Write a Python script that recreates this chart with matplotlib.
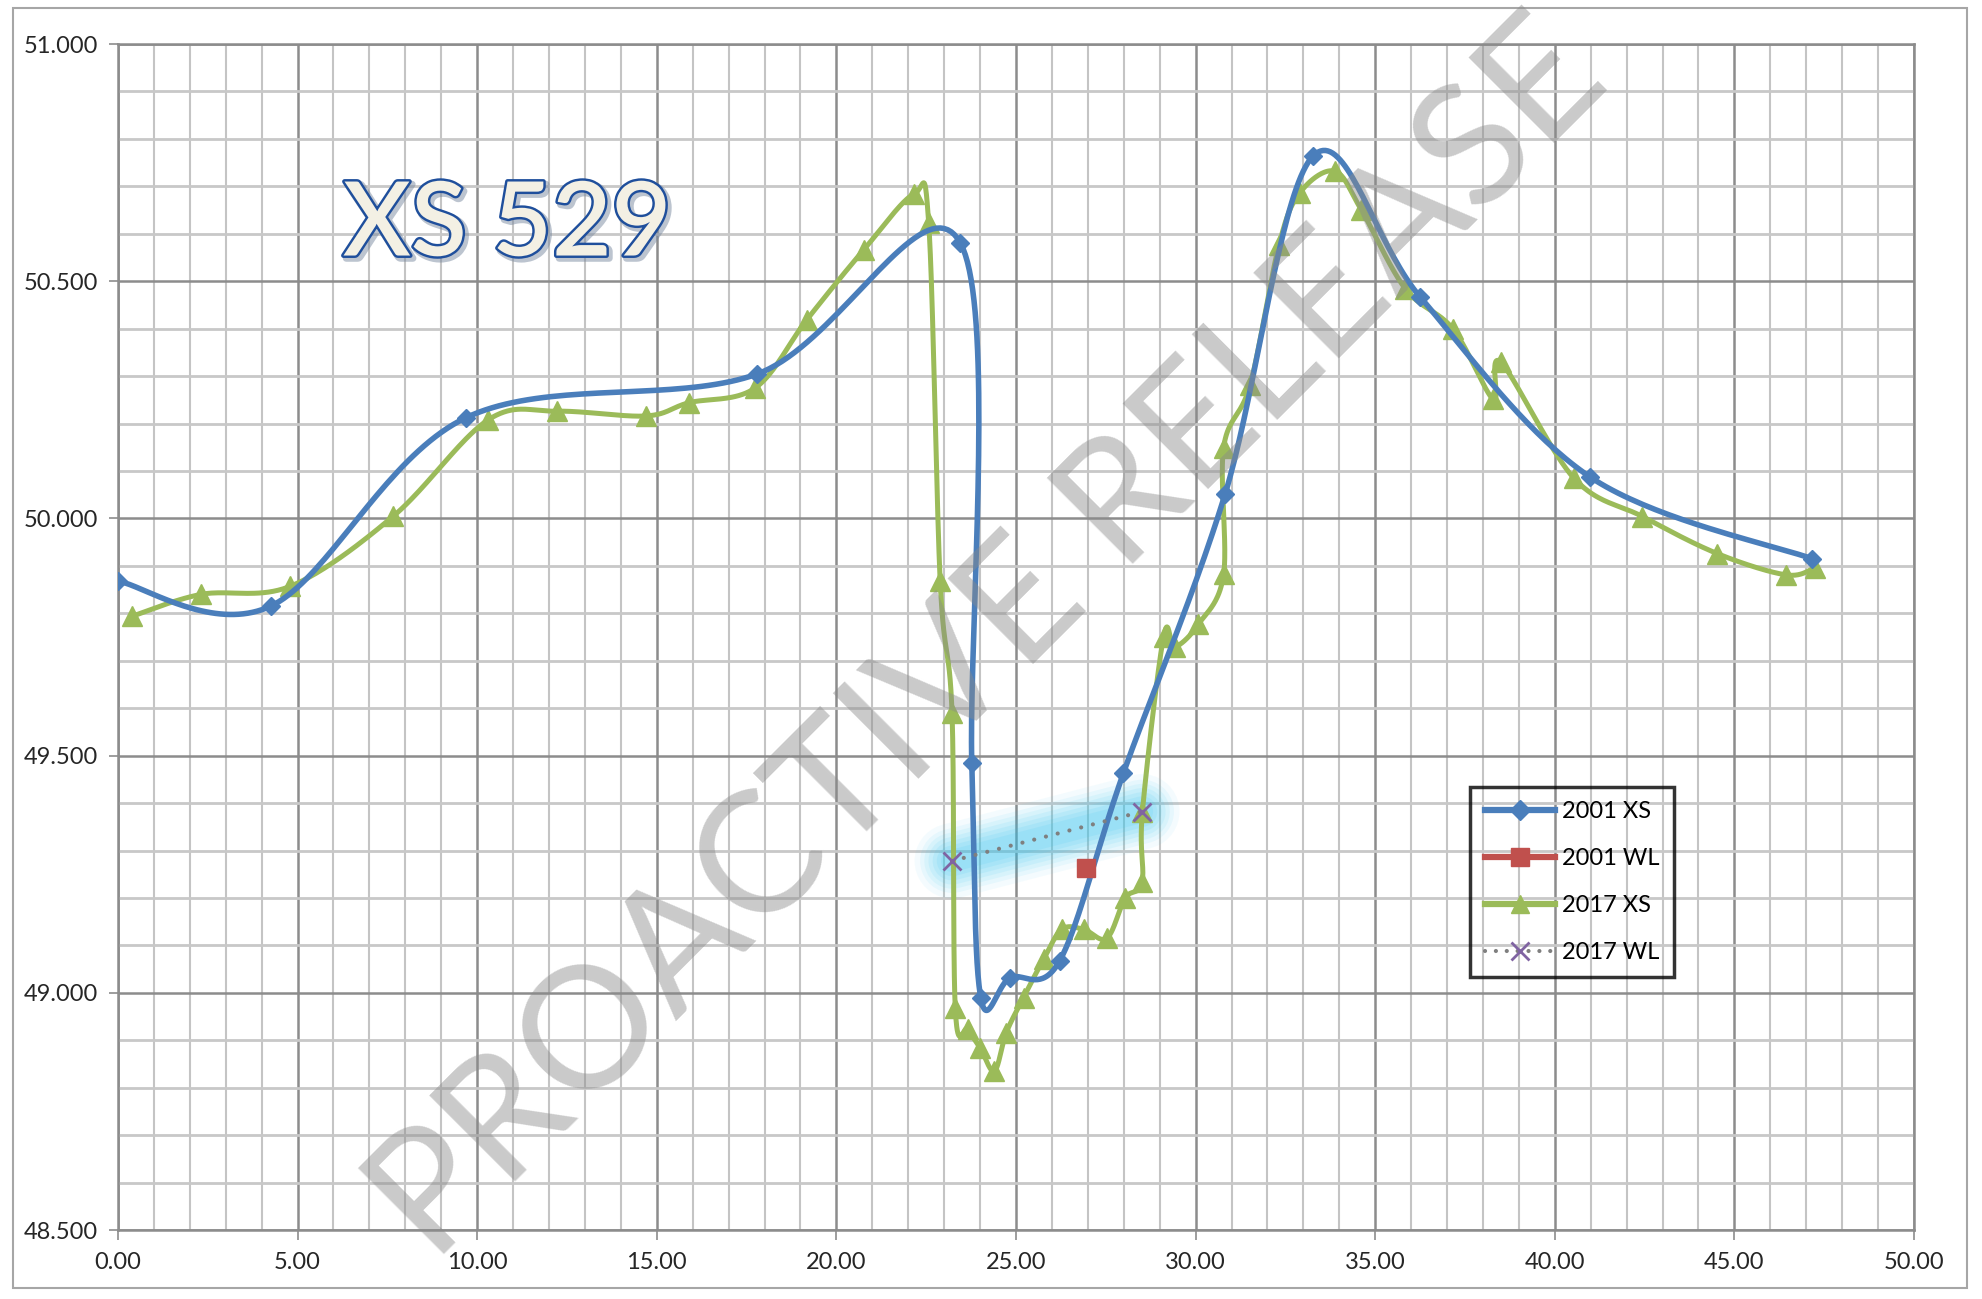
import numpy as np
import matplotlib
matplotlib.use("Agg")
import matplotlib.pyplot as plt
import matplotlib.patheffects as pe
from matplotlib.lines import Line2D
from matplotlib.patches import Rectangle
from matplotlib.ticker import MultipleLocator, FormatStrFormatter

# ── Dados da seção XS 529 ─────────────────────────────────────────────────────
xs2001_x = [0.00, 4.25, 9.68, 17.78, 23.45, 23.77, 24.02, 24.84, 26.22, 27.99,
            30.82, 33.27, 36.26, 40.99, 47.16]
xs2001_y = [49.868, 49.815, 50.212, 50.304, 50.581, 49.484, 48.990, 49.032,
            49.068, 49.463, 50.051, 50.764, 50.466, 50.087, 49.915]

xs2017_x = [0.40, 2.32, 4.80, 7.67, 10.31, 12.23, 14.70, 15.90, 17.74, 19.18,
            20.76, 22.15, 22.57, 22.89, 23.22, 23.31, 23.66, 24.01, 24.40, 24.73,
            25.21, 25.77, 26.28, 26.88, 27.53, 28.04, 28.51, 28.52, 29.11, 29.43,
            30.08, 30.78, 30.78, 31.52, 32.32, 32.91, 33.87, 34.61, 35.84, 37.17,
            38.29, 38.50, 40.53, 42.44, 44.52, 46.44, 47.24]
xs2017_y = [49.794, 49.840, 49.857, 50.005, 50.208, 50.226, 50.216, 50.244,
            50.275, 50.419, 50.566, 50.683, 50.623, 49.868, 49.589, 48.968,
            48.923, 48.883, 48.835, 48.916, 48.990, 49.071, 49.134, 49.134,
            49.115, 49.200, 49.234, 49.382, 49.751, 49.729, 49.777, 49.882,
            50.149, 50.282, 50.576, 50.687, 50.732, 50.651, 50.484, 50.399,
            50.251, 50.329, 50.085, 50.004, 49.926, 49.881, 49.896]

wl2001_x = [26.95]
wl2001_y = [49.263]

wl2017_x = [23.22, 28.51]
wl2017_y = [49.278, 49.382]

AZUL   = "#4a7ebb"
VERDE  = "#9bbb59"
VERMELHO = "#c0504d"
ROXO   = "#8064a2"
CINZA  = "#7f7f7f"
FONTE  = ["Lato", "DejaVu Sans"]


def suaviza(xs, ys, n=40):
    """Curva suavizada (Bezier tipo Catmull-Rom, como a linha suave do Excel)."""
    p = np.column_stack([xs, ys]).astype(float)
    ext = np.vstack([p[0], p, p[-1]])
    t = np.linspace(0, 1, n)[:, None]
    partes = []
    for i in range(len(p) - 1):
        p0, p1, p2, p3 = ext[i], ext[i + 1], ext[i + 2], ext[i + 3]
        c1 = p1 + (p2 - p0) / 6
        c2 = p2 - (p3 - p1) / 6
        seg = (1 - t) ** 3 * p1 + 3 * (1 - t) ** 2 * t * c1 + 3 * (1 - t) * t ** 2 * c2 + t ** 3 * p2
        partes.append(seg if i == 0 else seg[1:])
    c = np.vstack(partes)
    return c[:, 0], c[:, 1]


plt.rcParams["font.family"] = FONTE
fig = plt.figure(figsize=(19.82, 12.99), dpi=100)
ax = fig.add_axes([0.0595, 0.0531, 0.9062, 0.9130])

ax.set_xlim(0, 50)
ax.set_ylim(48.5, 51.0)

# ── Grade ────────────────────────────────────────────────────────────────────
ax.xaxis.set_major_locator(MultipleLocator(5))
ax.xaxis.set_minor_locator(MultipleLocator(1))
ax.yaxis.set_major_locator(MultipleLocator(0.5))
ax.yaxis.set_minor_locator(MultipleLocator(0.1))
ax.xaxis.set_major_formatter(FormatStrFormatter("%.2f"))
ax.yaxis.set_major_formatter(FormatStrFormatter("%.3f"))
ax.grid(which="minor", axis="x", color="#c4c4c4", lw=1.5, zorder=0)
ax.grid(which="minor", axis="y", color="#c8c8c8", lw=2.0, zorder=0)
ax.grid(which="major", axis="both", color="#8c8c8c", lw=1.8, zorder=0)
ax.set_axisbelow(True)
for s in ax.spines.values():
    s.set_color("#8c8c8c")
    s.set_linewidth(1.8)
ax.tick_params(which="major", axis="x", length=7, width=1.2, color="#8c8c8c",
               pad=9, labelsize=17, labelcolor="#262626")
ax.tick_params(which="major", axis="y", length=6.5, width=1.2, color="#8c8c8c",
               pad=8, labelsize=17, labelcolor="#262626")
ax.tick_params(which="minor", length=0)

# ── Brilho em torno da linha d'água 2017 ────────────────────────────────────
for lw, a in [(54, 0.05), (46, 0.07), (40, 0.08), (34, 0.09), (28, 0.10), (22, 0.11), (16, 0.11)]:
    ax.plot(wl2017_x, wl2017_y, color="#30c4f0", lw=lw, alpha=a,
            solid_capstyle="round", zorder=2)

# ── Séries ──────────────────────────────────────────────────────────────────
bx, by = suaviza(xs2001_x, xs2001_y)
ax.plot(bx, by, color=AZUL, lw=4.0, zorder=4)
ax.plot(xs2001_x, xs2001_y, ls="none", marker="D", ms=9.5, color=AZUL, zorder=5)

gx, gy = suaviza(xs2017_x, xs2017_y)
ax.plot(gx, gy, color=VERDE, lw=3.6, zorder=3)
ax.plot(xs2017_x, xs2017_y, ls="none", marker="^", ms=14, color=VERDE, zorder=3)

ax.plot(wl2001_x, wl2001_y, ls="none", marker="s", ms=13, color=VERMELHO, zorder=6)

ax.plot(wl2017_x, wl2017_y, color=CINZA, lw=3, ls=(0, (0.01, 2.9)),
        dash_capstyle="round", zorder=6)
ax.plot(wl2017_x, wl2017_y, ls="none", marker="x", ms=13, mew=2, color=ROXO, zorder=7)

# ── Legenda ─────────────────────────────────────────────────────────────────
handles = [
    Line2D([], [], color=AZUL, lw=4.5, marker="D", ms=10),
    Line2D([], [], color=VERMELHO, lw=4.5, marker="s", ms=13),
    Line2D([], [], color=VERDE, lw=4.5, marker="^", ms=13),
    Line2D([], [], color=CINZA, lw=3, ls=(0, (0.01, 2.6)), dash_capstyle="round",
           marker="x", ms=13, mew=2, mec=ROXO),
]
leg = ax.legend(handles, ["2001 XS", "2001 WL", "2017 XS", "2017 WL"],
                loc="upper left", bbox_to_anchor=(0.753, 0.3735),
                borderaxespad=0, fontsize=17, handlelength=3.0,
                handletextpad=0.3, labelspacing=1.1, borderpad=0.6,
                fancybox=False, frameon=True)
leg.get_frame().set_edgecolor("black")
leg.get_frame().set_linewidth(2.5)
leg.get_frame().set_facecolor("none")
leg.set_zorder(10)

# ── Título da seção ─────────────────────────────────────────────────────────
fig.text(0.2558, 0.826, "XS 529", ha="center", va="center", fontsize=74,
         weight="semibold", color="#f3f0e4", family=FONTE, zorder=8,
         path_effects=[pe.SimpleLineShadow(offset=(2, -2), shadow_color="#7a8aa0", alpha=0.5, linewidth=5),
                       pe.Stroke(linewidth=3.5, foreground="#1f4f9c"),
                       pe.Normal()])

# ── Marca d'água ─────────────────────────────────────────────────────────────
fig.text(0.499, 0.507, "PROACTIVE RELEASE", ha="center", va="center",
         rotation=45, rotation_mode="anchor", fontsize=122, weight="normal",
         color="#8a8a8a", alpha=0.45, family=FONTE, zorder=20)

# moldura externa do gráfico
fig.patches.append(Rectangle((0.0066, 0.0085), 0.9858, 0.9853,
                             transform=fig.transFigure, fill=False,
                             edgecolor="#a6a6a6", lw=1.5, zorder=-1))

fig.savefig("out.png", dpi=100)
